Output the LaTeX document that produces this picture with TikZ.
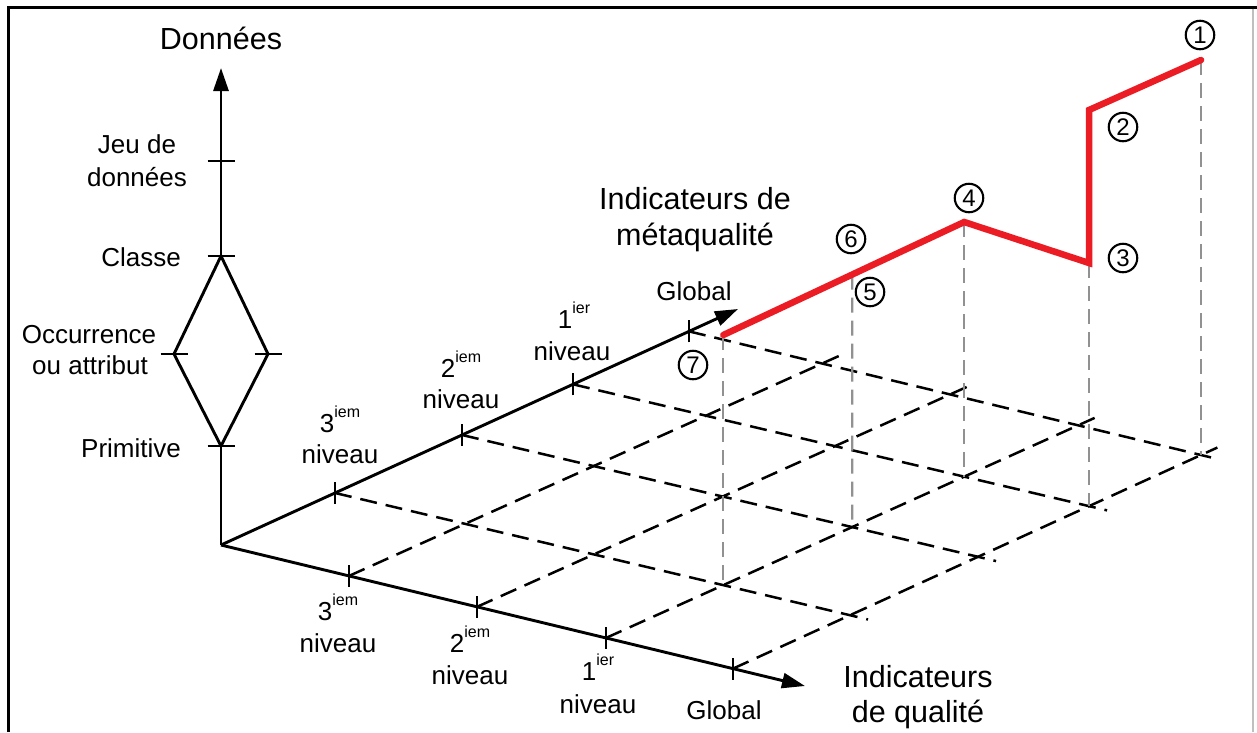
\documentclass[tikz,border=0pt]{standalone}
\usepackage{fontspec}
\setmainfont{Liberation Sans}
\usetikzlibrary{arrows.meta,calc}
\definecolor{redline}{RGB}{236,28,36}
\definecolor{vgray}{RGB}{145,145,145}
\newcommand\sups[1]{\raisebox{15pt}{\fontsize{16}{16}\selectfont #1}}
\begin{document}
\begin{tikzpicture}[x=1pt,y=-1pt,
  axis/.style={line width=2.9pt},
  axisarrow/.style={line width=2.9pt,-{Triangle[length=23pt,width=15pt]}},
  tickmark/.style={line width=2.5pt},
  gridline/.style={line width=2.5pt,dash pattern=on 17pt off 9pt},
  dropline/.style={vgray,line width=2.2pt,dash pattern=on 15pt off 8pt},
  redpath/.style={redline,line width=6.5pt,line cap=round,line join=miter},
  big/.style={font=\fontsize{30.5}{35}\selectfont,inner sep=0pt,anchor=base},
  lab/.style={font=\fontsize{26}{31}\selectfont,inner sep=0pt,anchor=base},
  num/.style={circle,draw,line width=2.1pt,minimum size=28.5pt,inner sep=0pt,font=\fontsize{24}{24}\selectfont}
]
\fill[white] (0,0) rectangle (1257,732);
\useasboundingbox (0,0) rectangle (1257,732);
% frame
\draw[line width=3pt] (8.5,732) -- (8.5,7) -- (1257,7);
\draw[black!25,line width=1.5pt] (1253,8.5) -- (1253,732);

% base coordinates
\coordinate (O) at (221,545);
\coordinate (Vtip) at (221,68);
\coordinate (Vjeu) at (221,161);
\coordinate (Vcla) at (221,256);
\coordinate (Vpri) at (221,446);
\coordinate (Dl) at (174,354);
\coordinate (Dr) at (268,354);
\coordinate (Mtip) at (738,309);
\coordinate (Qtip) at (805,686);
\coordinate (M1) at ($(O)!0.2205!(Mtip)$);
\coordinate (M2) at ($(O)!0.4662!(Mtip)$);
\coordinate (M3) at ($(O)!0.6809!(Mtip)$);
\coordinate (M4) at ($(O)!0.9052!(Mtip)$);
\coordinate (Q1) at ($(O)!0.2192!(Qtip)$);
\coordinate (Q2) at ($(O)!0.4384!(Qtip)$);
\coordinate (Q3) at ($(O)!0.6592!(Qtip)$);
\coordinate (Q4) at ($(O)!0.8767!(Qtip)$);
\coordinate (R4) at (1201,455);
\coordinate (R1) at ($(Q4)!0.25!(R4)$);
\coordinate (R2) at ($(Q4)!0.5235!(R4)$);
\coordinate (R3) at ($(Q4)!0.7607!(R4)$);
\coordinate (B1) at ($(M4)!0.26!(R4)$);
\coordinate (B2) at ($(M4)!0.51!(R4)$);
\coordinate (B3) at ($(M4)!0.76!(R4)$);
\coordinate (B4) at (R4);

% dashed grid
\foreach \i in {1,2,3,4}{
  \draw[gridline] (M\i) -- ($(M\i)!1.035!(R\i)$);
  \draw[gridline] (Q\i) -- ($(Q\i)!1.035!(B\i)$);
}

% grid points under the red line
\coordinate (G13) at (intersection of M1--R1 and Q3--B3);
\coordinate (G23) at (intersection of M2--R2 and Q3--B3);
\coordinate (G33) at (intersection of M3--R3 and Q3--B3);
\coordinate (G34) at (R3);
\coordinate (G44) at (R4);
\coordinate (h335) at (0,335);
\coordinate (h222) at (0,222);
\coordinate (h263) at (0,263);
\coordinate (h110) at (0,110);
\coordinate (h60) at (0,60);
\coordinate (r7) at (G13 |- h335);
\coordinate (r4) at (G33 |- h222);
\coordinate (r3) at (G34 |- h263);
\coordinate (r2) at (G34 |- h110);
\coordinate (r1) at (G44 |- h60);
\coordinate (G23up) at (G23 |- h60);
\coordinate (r56) at (intersection of r7--r4 and G23--G23up);

% grey drop lines
\draw[dropline] (r7) -- (G13);
\draw[dropline] (r56) -- (G23);
\draw[dropline] (r4) -- (G33);
\draw[dropline] (r3) -- (G34);
\draw[dropline] (r1) -- (G44);

% axes
\draw[axis] (O) -- (Vpri);
\draw[axisarrow] (Vcla) -- (Vtip);
\draw[axis,line join=miter] (Vpri) -- (Dl) -- (Vcla) -- (Dr) -- cycle;
\draw[axisarrow] (O) -- (Mtip);
\draw[axisarrow] (O) -- (Qtip);

% ticks
\foreach \p in {Vjeu,Vcla,Vpri,Dl,Dr}{
  \draw[tickmark] ([xshift=-13.5pt]\p) -- ([xshift=13.5pt]\p);
}
\foreach \p in {M1,M2,M3,M4,Q1,Q2,Q3,Q4}{
  \draw[tickmark] ([yshift=-11pt]\p) -- ([yshift=11pt]\p);
}

% red path
\draw[redpath] (r7) -- (r4) -- (r3) -- (r2) -- (r1);

% labels of the data axis
\node[big] (tDon) at (221,49) {Données};
\node[lab] (tJeu1) at (137,153) {Jeu de};
\node[lab] (tJeu2) at (137,186) {données};
\node[lab] (tCla) at (141,266) {Classe};
\node[lab] (tOcc1) at (89,343) {Occurrence};
\node[lab] (tOcc2) at (90,374) {ou attribut};
\node[lab] (tPri) at (131,457) {Primitive};

% labels of the metaquality axis
\node[lab] (m3a) at (340,432) {3\sups{iem}};
\node[lab] (m3b) at (340,463) {niveau};
\node[lab] (m2a) at (461,377) {2\sups{iem}};
\node[lab] (m2b) at (461,408) {niveau};
\node[lab] (m1a) at (574,328) {1\sups{ier}};
\node[lab] (m1b) at (572,360) {niveau};
\node[lab] (mG) at (694,300) {Global};
\node[big] (mt1) at (695,209) {Indicateurs de};
\node[big] (mt2) at (695,245) {métaqualité};

% labels of the quality axis
\node[lab] (q3a) at (338,620) {3\sups{iem}};
\node[lab] (q3b) at (338,652) {niveau};
\node[lab] (q2a) at (470,652) {2\sups{iem}};
\node[lab] (q2b) at (470,684) {niveau};
\node[lab] (q1a) at (598,680) {1\sups{ier}};
\node[lab] (q1b) at (598,713) {niveau};
\node[lab] (qG) at (724,719) {Global};
\node[big] (qt1) at (918,687) {Indicateurs};
\node[big] (qt2) at (918,722) {de qualité};

% circled numbers
\node[num] (c1) at (1200,35) {1};
\node[num] (c2) at (1123,127) {2};
\node[num] (c3) at (1123,258) {3};
\node[num] (c4) at (969,198) {4};
\node[num] (c5) at (870,292) {5};
\node[num] (c6) at (851,239) {6};
\node[num] (c7) at (693,365) {7};
\end{tikzpicture}
\end{document}
